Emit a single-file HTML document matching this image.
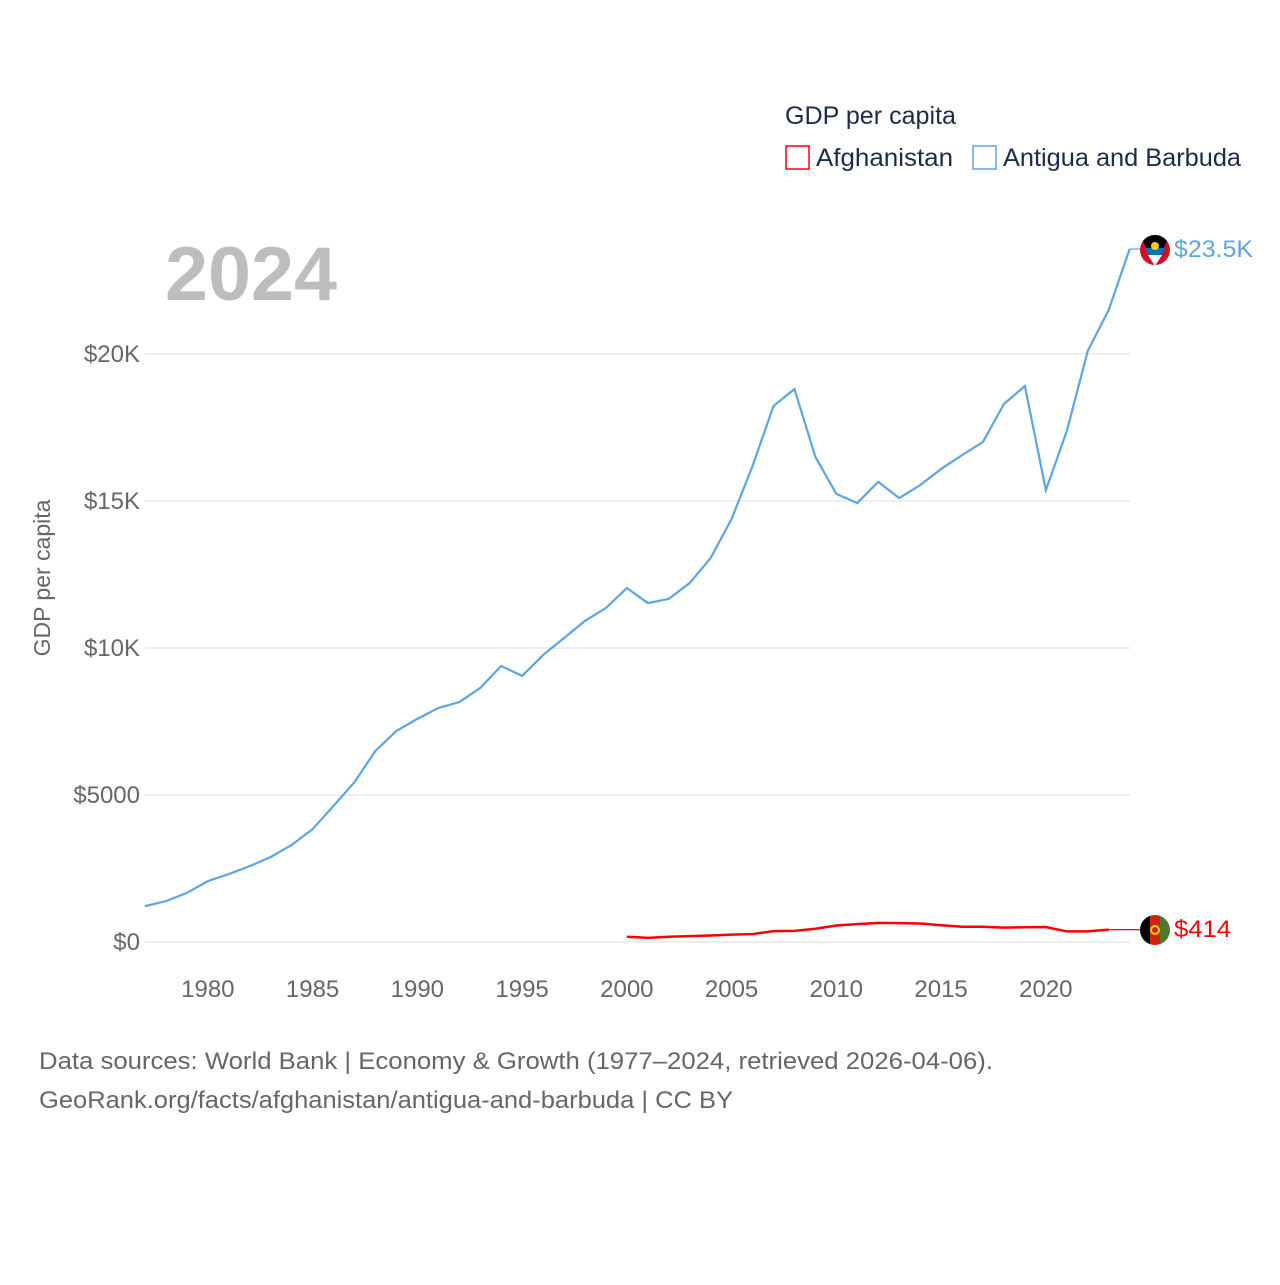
<!DOCTYPE html>
<html><head><meta charset="utf-8"><style>
body{margin:0;background:#fff;font-family:"Liberation Sans",sans-serif}
</style></head><body>
<svg id="chart" width="1280" height="1280" viewBox="0 0 1280 1280" xmlns="http://www.w3.org/2000/svg" font-family="Liberation Sans, sans-serif">
<text x="785" y="124" font-size="25" fill="#1d2b4a" textLength="171" lengthAdjust="spacingAndGlyphs">GDP per capita</text>
<rect x="786" y="146" width="23" height="23" fill="none" stroke="#f00" stroke-width="1.5"/>
<text x="816" y="166" font-size="25" fill="#1d2b4a" textLength="137" lengthAdjust="spacingAndGlyphs">Afghanistan</text>
<rect x="973" y="146" width="23" height="23" fill="none" stroke="#5ba4e5" stroke-width="1.5"/>
<text x="1003" y="166" font-size="25" fill="#1d2b4a" textLength="238" lengthAdjust="spacingAndGlyphs">Antigua and Barbuda</text>
<text x="165" y="300" font-size="76" font-weight="bold" fill="#bdbdbd" textLength="172" lengthAdjust="spacingAndGlyphs">2024</text>
<text transform="translate(50,578) rotate(-90)" text-anchor="middle" font-size="23" fill="#666">GDP per capita</text>
<g id="grid"></g><g id="xt"></g><g id="lines"></g>
<g>
<clipPath id="c1"><circle cx="1155" cy="250" r="15"/></clipPath>
<g clip-path="url(#c1)"><rect x="1140" y="235" width="30" height="30" fill="#ce1126"/>
<polygon points="1140,235 1170,235 1155,265" fill="#000"/>
<polygon points="1145,248 1165,248 1155,265" fill="#0072c6"/>
<polygon points="1148,255 1162,255 1155,266" fill="#fff"/>
<circle cx="1155" cy="246" r="4" fill="#fcd116"/></g></g>
<g>
<clipPath id="c2"><circle cx="1155" cy="930" r="15"/></clipPath>
<g clip-path="url(#c2)"><rect x="1140" y="915" width="10" height="30" fill="#000"/>
<rect x="1150" y="915" width="10" height="30" fill="#d32011"/>
<rect x="1160" y="915" width="10" height="30" fill="#4a7a2c"/>
<circle cx="1155" cy="930" r="4" fill="none" stroke="#fcd116" stroke-width="2"/></g></g>
<text x="1174" y="257" font-size="24" fill="#5ba4e5" textLength="79" lengthAdjust="spacingAndGlyphs">$23.5K</text>
<text x="1174" y="937" font-size="24" fill="#f00" textLength="57" lengthAdjust="spacingAndGlyphs">$414</text>
<text x="39" y="1069" font-size="24" fill="#666" textLength="954" lengthAdjust="spacingAndGlyphs">Data sources: World Bank | Economy &amp; Growth (1977–2024, retrieved 2026-04-06).</text>
<text x="39" y="1108" font-size="24" fill="#666" textLength="694" lengthAdjust="spacingAndGlyphs">GeoRank.org/facts/afghanistan/antigua-and-barbuda | CC BY</text>
</svg>
<script>
const yearsAtg=[1977,1978,1979,1980,1981,1982,1983,1984,1985,1986,1987,1988,1989,1990,1991,1992,1993,1994,1995,1996,1997,1998,1999,2000,2001,2002,2003,2004,2005,2006,2007,2008,2009,2010,2011,2012,2013,2014,2015,2016,2017,2018,2019,2020,2021,2022,2023,2024];
const atgValues=[1220,1390,1670,2070,2310,2580,2890,3300,3840,4630,5440,6500,7180,7590,7960,8160,8640,9390,9050,9760,10340,10920,11360,12040,11530,11670,12210,13060,14390,16190,18230,18810,16500,15240,14930,15650,15100,15540,16090,16560,17010,18300,18910,15370,17380,20100,21500,23570];
const yearsAfg=[2000,2001,2002,2003,2004,2005,2006,2007,2008,2009,2010,2011,2012,2013,2014,2015,2016,2017,2018,2019,2020,2021,2022,2023];
const afgValues=[180,140,180,200,220,250,270,370,380,450,560,610,650,640,630,570,520,520,490,500,510,360,360,420];
const yTicks=[0,5000,10000,15000,20000];
const yTickLabels=["$0","$5000","$10K","$15K","$20K"];
const xTicks=[1980,1985,1990,1995,2000,2005,2010,2015,2020];
const NS="http://www.w3.org/2000/svg";
const x=yr=>145+(yr-1977)*20.95;
const y=v=>942-v*0.0294;
function mk(tag,attrs,parent){const e=document.createElementNS(NS,tag);for(const k in attrs)e.setAttribute(k,attrs[k]);parent.appendChild(e);return e;}
const grid=document.getElementById('grid');
yTicks.forEach((v,i)=>{
 const l=mk('line',{x1:145,x2:1130,y1:y(v),y2:y(v),stroke:'#e8e8e8','stroke-width':1.5},grid);
 
 
 const t=mk('text',{x:140,y:y(v)+8,'text-anchor':'end','font-size':24,fill:'#666'},grid);
 t.textContent=yTickLabels[i];
 
 
});
const xt=document.getElementById('xt');
xTicks.forEach(yr=>{
 const t=mk('text',{x:x(yr),y:997,'text-anchor':'middle','font-size':24,fill:'#666'},xt);
 t.textContent=yr;
 
 
});
const lines=document.getElementById('lines');
const pa=mk('path',{d:yearsAtg.map((yr,i)=>(i?'L':'M')+x(yr)+','+y(atgValues[i])).join(''),fill:'none',stroke:'#5ba4e5','stroke-width':2.2},lines);


const lastA=atgValues[atgValues.length-1];
const ca=mk('line',{x1:x(yearsAtg[yearsAtg.length-1]),x2:1140,y1:y(lastA),y2:y(lastA),stroke:'#5ba4e5','stroke-width':1.2},lines);


const pf=mk('path',{d:yearsAfg.map((yr,i)=>(i?'L':'M')+x(yr)+','+y(afgValues[i])).join(''),fill:'none',stroke:'#f00','stroke-width':2.5},lines);


const lastF=afgValues[afgValues.length-1];
const cf=mk('line',{x1:x(yearsAfg[yearsAfg.length-1]),x2:1140,y1:y(lastF),y2:y(lastF),stroke:'#f00','stroke-width':1.2},lines);


</script>
</body></html>
